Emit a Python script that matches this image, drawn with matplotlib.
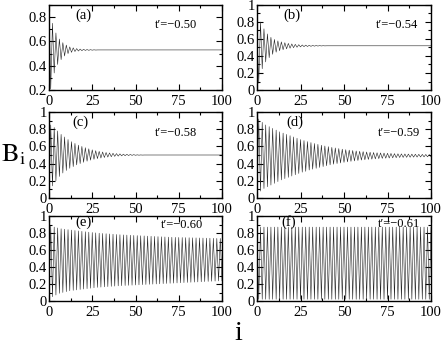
import matplotlib
matplotlib.use('Agg')
import matplotlib.pyplot as plt
import numpy as np
from matplotlib.ticker import MultipleLocator, FormatStrFormatter

plt.rcParams['font.family'] = ['Liberation Serif', 'DejaVu Serif']
plt.rcParams['mathtext.fontset'] = 'stix'

# B_i: values at even i (0, 2, ..., 100) and odd i (1, 3, ..., 99)
a_even = [0.90, 0.75, 0.67, 0.62, 0.59, 0.57, 0.555, 0.547, 0.541, 0.537,
          0.535, 0.533, 0.532, 0.531, 0.53, 0.53, 0.53, 0.53, 0.53, 0.53,
          0.53, 0.53, 0.53, 0.53, 0.53, 0.53, 0.53, 0.53, 0.53, 0.53,
          0.53, 0.53, 0.53, 0.53, 0.53, 0.53, 0.53, 0.53, 0.53, 0.53,
          0.53, 0.53, 0.53, 0.53, 0.53, 0.53, 0.53, 0.53, 0.53, 0.53,
          0.53]
a_odd = [0.21, 0.34, 0.41, 0.45, 0.48, 0.50, 0.51, 0.517, 0.521, 0.524,
         0.526, 0.527, 0.528, 0.529, 0.53, 0.53, 0.53, 0.53, 0.53, 0.53,
         0.53, 0.53, 0.53, 0.53, 0.53, 0.53, 0.53, 0.53, 0.53, 0.53,
         0.53, 0.53, 0.53, 0.53, 0.53, 0.53, 0.53, 0.53, 0.53, 0.53,
         0.53, 0.53, 0.53, 0.53, 0.53, 0.53, 0.53, 0.53, 0.53, 0.53]

b_even = [0.70, 0.80, 0.72, 0.66, 0.62, 0.595, 0.578, 0.566, 0.556, 0.548,
          0.542, 0.537, 0.533, 0.530, 0.528, 0.526, 0.524, 0.523, 0.522, 0.521,
          0.52, 0.52, 0.52, 0.52, 0.52, 0.52, 0.52, 0.52, 0.52, 0.52,
          0.52, 0.52, 0.52, 0.52, 0.52, 0.52, 0.52, 0.52, 0.52, 0.52,
          0.52, 0.52, 0.52, 0.52, 0.52, 0.52, 0.52, 0.52, 0.52, 0.52,
          0.52]
b_odd = [0.08, 0.25, 0.33, 0.38, 0.42, 0.445, 0.462, 0.474, 0.484, 0.492,
         0.498, 0.503, 0.507, 0.510, 0.512, 0.514, 0.516, 0.517, 0.518, 0.519,
         0.52, 0.52, 0.52, 0.52, 0.52, 0.52, 0.52, 0.52, 0.52, 0.52,
         0.52, 0.52, 0.52, 0.52, 0.52, 0.52, 0.52, 0.52, 0.52, 0.52,
         0.52, 0.52, 0.52, 0.52, 0.52, 0.52, 0.52, 0.52, 0.52, 0.52]

c_even = [0.02, 0.14, 0.20, 0.25, 0.29, 0.32, 0.345, 0.365, 0.385, 0.40,
          0.415, 0.428, 0.44, 0.45, 0.458, 0.465, 0.471, 0.476, 0.48, 0.484,
          0.487, 0.49, 0.492, 0.494, 0.496, 0.497, 0.498, 0.499, 0.5, 0.5,
          0.5, 0.5, 0.5, 0.5, 0.5, 0.5, 0.5, 0.5, 0.5, 0.5,
          0.5, 0.5, 0.5, 0.5, 0.5, 0.5, 0.5, 0.5, 0.5, 0.5,
          0.5]
c_odd = [0.85, 0.82, 0.78, 0.74, 0.71, 0.68, 0.655, 0.635, 0.615, 0.60,
         0.585, 0.572, 0.56, 0.55, 0.542, 0.535, 0.529, 0.524, 0.52, 0.516,
         0.513, 0.51, 0.508, 0.506, 0.504, 0.502, 0.501, 0.5, 0.5, 0.5,
         0.5, 0.5, 0.5, 0.5, 0.5, 0.5, 0.5, 0.5, 0.5, 0.5,
         0.5, 0.5, 0.5, 0.5, 0.5, 0.5, 0.5, 0.5, 0.5, 0.5]

d_even = [0.05, 0.08, 0.11, 0.13, 0.15, 0.17, 0.19, 0.21, 0.225, 0.24,
          0.255, 0.27, 0.285, 0.30, 0.31, 0.325, 0.335, 0.345, 0.355, 0.365,
          0.375, 0.385, 0.393, 0.40, 0.407, 0.414, 0.42, 0.426, 0.431, 0.436,
          0.441, 0.445, 0.449, 0.452, 0.455, 0.458, 0.461, 0.463, 0.465, 0.467,
          0.469, 0.471, 0.472, 0.473, 0.474, 0.475, 0.476, 0.477, 0.478, 0.479,
          0.48]
d_odd = [0.92, 0.88, 0.85, 0.83, 0.81, 0.79, 0.77, 0.755, 0.74, 0.725,
         0.71, 0.695, 0.68, 0.668, 0.656, 0.645, 0.634, 0.624, 0.614, 0.605,
         0.597, 0.589, 0.582, 0.575, 0.568, 0.562, 0.557, 0.552, 0.547, 0.543,
         0.539, 0.535, 0.532, 0.529, 0.526, 0.524, 0.522, 0.52, 0.518, 0.516,
         0.514, 0.513, 0.512, 0.511, 0.51, 0.509, 0.508, 0.507, 0.506, 0.505]

e_even = [0.03, 0.05, 0.07, 0.09, 0.10, 0.11, 0.12, 0.125, 0.13, 0.135,
          0.14, 0.145, 0.15, 0.155, 0.16, 0.163, 0.166, 0.169, 0.172, 0.175,
          0.178, 0.18, 0.182, 0.184, 0.186, 0.188, 0.19, 0.192, 0.194, 0.196,
          0.198, 0.2, 0.202, 0.204, 0.206, 0.208, 0.21, 0.212, 0.214, 0.216,
          0.218, 0.22, 0.222, 0.224, 0.226, 0.228, 0.23, 0.232, 0.234, 0.236,
          0.238]
e_odd = [0.88, 0.87, 0.86, 0.85, 0.845, 0.84, 0.835, 0.83, 0.825, 0.82,
         0.815, 0.81, 0.806, 0.802, 0.798, 0.795, 0.792, 0.789, 0.786, 0.783,
         0.78, 0.778, 0.776, 0.774, 0.772, 0.77, 0.768, 0.766, 0.764, 0.762,
         0.76, 0.758, 0.756, 0.754, 0.752, 0.75, 0.749, 0.748, 0.747, 0.746,
         0.745, 0.744, 0.743, 0.742, 0.741, 0.74, 0.739, 0.738, 0.737, 0.736]

f_even = [0.87, 0.87, 0.87, 0.87, 0.87, 0.87, 0.87, 0.87, 0.87, 0.87,
          0.87, 0.87, 0.87, 0.87, 0.87, 0.87, 0.87, 0.87, 0.87, 0.87,
          0.87, 0.87, 0.87, 0.87, 0.87, 0.87, 0.87, 0.87, 0.87, 0.87,
          0.87, 0.87, 0.87, 0.87, 0.87, 0.87, 0.87, 0.87, 0.87, 0.87,
          0.87, 0.87, 0.87, 0.87, 0.87, 0.87, 0.87, 0.87, 0.87, 0.87,
          0.87]
f_odd = [0.02, 0.02, 0.02, 0.02, 0.02, 0.02, 0.02, 0.02, 0.02, 0.02,
         0.02, 0.02, 0.02, 0.02, 0.02, 0.02, 0.02, 0.02, 0.02, 0.02,
         0.02, 0.02, 0.02, 0.02, 0.02, 0.02, 0.02, 0.02, 0.02, 0.02,
         0.02, 0.02, 0.02, 0.02, 0.02, 0.02, 0.02, 0.02, 0.02, 0.02,
         0.02, 0.02, 0.02, 0.02, 0.02, 0.02, 0.02, 0.02, 0.02, 0.02]

panel_labels = ['(a)', '(b)', '(c)', '(d)', '(e)', '(f)']
t_values = ['\u22120.50', '\u22120.54', '\u22120.58', '\u22120.59', '\u22120.60', '\u22120.61']
series = [(a_even, a_odd), (b_even, b_odd), (c_even, c_odd),
          (d_even, d_odd), (e_even, e_odd), (f_even, f_odd)]
ylims = [(0.2, 0.9), (0, 1), (0, 1), (0, 1), (0, 1), (0, 1)]

# axes boxes in pixels
W, H = 443, 346
col_x = [(49, 173), (257, 174)]
row_y = [(5, 90), (112, 198), (216, 301)]
# text placement (axes fraction): label x, label y, t right x, t y
txt_pos = [(0.20, 0.88, 0.855, 0.76), (0.20, 0.88, 0.925, 0.76),
           (0.18, 0.875, 0.855, 0.76), (0.22, 0.875, 0.94, 0.76),
           (0.20, 0.93, 0.89, 0.90), (0.18, 0.93, 0.94, 0.91)]

fig = plt.figure(figsize=(W / 100, H / 100), dpi=100)

for k in range(6):
    r, c = divmod(k, 2)
    x0, w = col_x[c]
    top, bot = row_y[r]
    ax = fig.add_axes([x0 / W, 1 - bot / H, w / W, (bot - top) / H])

    B = np.empty(101)
    B[0::2] = series[k][0]
    B[1::2] = series[k][1]
    ax.plot(np.arange(101), B, color='#202020', lw=0.4)

    ax.set_xlim(0, 100)
    ax.set_ylim(*ylims[k])
    ax.xaxis.set_major_locator(MultipleLocator(25))
    ax.xaxis.set_minor_locator(MultipleLocator(12.5))
    ax.yaxis.set_major_locator(MultipleLocator(0.2))
    ax.yaxis.set_minor_locator(MultipleLocator(0.1))
    ax.yaxis.set_major_formatter(FormatStrFormatter('%g'))
    ax.tick_params(which='both', direction='in', top=True, right=True,
                   labelsize=10.5, width=0.8)
    ax.tick_params(axis='x', pad=3.5)
    ax.tick_params(axis='y', pad=1.5)
    ax.tick_params(which='major', length=4)
    ax.tick_params(which='minor', length=2)
    for s in ax.spines.values():
        s.set_linewidth(1.0)

    lx, ly, tx, ty = txt_pos[k]
    ax.text(lx, ly, panel_labels[k], transform=ax.transAxes,
            ha='center', va='center', fontsize=10.5)
    ax.text(tx, ty, 't\u2032=' + t_values[k], transform=ax.transAxes,
            ha='right', va='center', fontsize=9)

fig.text(13 / W, 1 - 155 / H, r'$\mathrm{B}_\mathrm{i}$', fontsize=19, ha='center', va='center')
fig.text(238 / W, 1 - 333 / H, 'i', fontsize=20, ha='center', va='center')

fig.savefig('out.png', dpi=100)
